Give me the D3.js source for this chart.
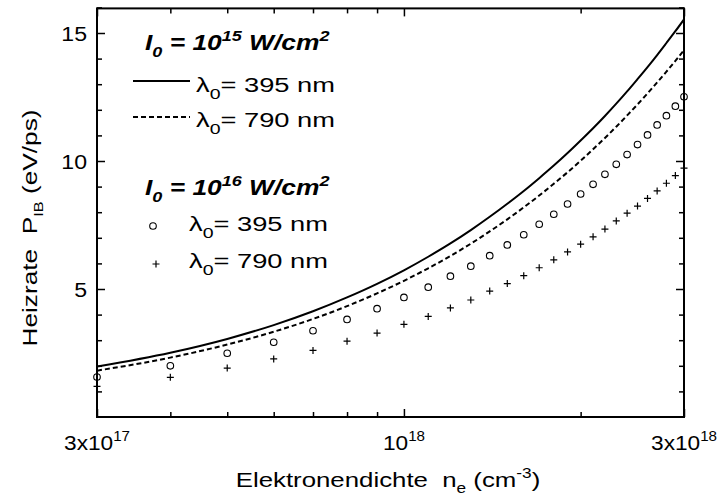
<!DOCTYPE html>
<html>
<head>
<meta charset="utf-8">
<script src="https://cdn.jsdelivr.net/npm/d3@7"></script>
<style>
  html, body { margin: 0; padding: 0; background: #fff; }
  svg { display: block; font-family: "Liberation Sans", Arial, Helvetica, sans-serif; }
  svg text { white-space: pre; }
</style>
</head>
<body>
<svg id="chart" width="719" height="502"></svg>
<script>
// ---- data ----
const density = [3e17, 4e17, 5e17, 6e17, 7e17, 8e17, 9e17,
  1.0e18, 1.1e18, 1.2e18, 1.3e18, 1.4e18, 1.5e18, 1.6e18, 1.7e18, 1.8e18, 1.9e18,
  2.0e18, 2.1e18, 2.2e18, 2.3e18, 2.4e18, 2.5e18, 2.6e18, 2.7e18, 2.8e18, 2.9e18, 3.0e18];
// I0 = 1e15 W/cm2, lambda 395 nm (solid)
const line395 = [1.97, 2.51, 3.05, 3.59, 4.13, 4.67, 5.20, 5.73, 6.26, 6.78, 7.30, 7.82, 8.33, 8.83,
  9.33, 9.82, 10.31, 10.80, 11.28, 11.76, 12.24, 12.72, 13.20, 13.67, 14.14, 14.61, 15.07, 15.53];
// I0 = 1e15 W/cm2, lambda 790 nm (dashed)
const line790 = [1.81, 2.32, 2.83, 3.33, 3.83, 4.33, 4.83, 5.32, 5.81, 6.29, 6.77, 7.25, 7.72, 8.19,
  8.65, 9.11, 9.56, 10.01, 10.46, 10.90, 11.34, 11.78, 12.21, 12.64, 13.07, 13.49, 13.91, 14.33];
// I0 = 1e16 W/cm2, lambda 395 nm (circles)
const circ395 = [1.56, 2.00, 2.49, 2.92, 3.37, 3.81, 4.23, 4.67, 5.07, 5.50, 5.89, 6.30, 6.72, 7.12,
  7.53, 7.92, 8.32, 8.71, 9.09, 9.48, 9.87, 10.25, 10.64, 11.02, 11.41, 11.77, 12.14, 12.51];
// I0 = 1e16 W/cm2, lambda 790 nm (plus)
const plus790 = [1.20, 1.55, 1.91, 2.27, 2.60, 2.96, 3.28, 3.62, 3.93, 4.26, 4.57, 4.92, 5.21, 5.52,
  5.83, 6.14, 6.45, 6.75, 7.04, 7.34, 7.66, 7.96, 8.24, 8.54, 8.83, 9.13, 9.43, 9.72];

const xMajorTicks = [3e17, 1e18, 3e18];
const xMinorTicks = [4e17, 5e17, 6e17, 7e17, 8e17, 9e17, 2e18];
const xTickLabels = [["3x10", "17"], ["10", "18"], ["3x10", "18"]];
const yMajorTicks = [5, 10, 15];
const yMinorTicks = [1, 2, 3, 4, 6, 7, 8, 9, 11, 12, 13, 14, 16];
const yTickLabels = ["5", "10", "15"];

// ---- layout ----
const svg = d3.select("#chart");
const L = 97, R = 684, T = 7.4, B = 417;
const x = d3.scaleLog().domain([3e17, 3e18]).range([L, R]);
const y = d3.scaleLinear().domain([0, 16]).range([B, T]);
const FONT = 21;

svg.append("defs").append("clipPath").attr("id", "clip")
  .append("rect").attr("x", L).attr("y", T).attr("width", R - L).attr("height", B - T);

// ticks (inward, mirrored) using d3 axes
function axisG(axis, tx, ty) {
  const g = svg.append("g").attr("transform", `translate(${tx},${ty})`).call(axis);
  g.select(".domain").remove();
  g.selectAll("text").remove();
  g.selectAll("line").attr("stroke", "#000").attr("stroke-width", 1.5);
  return g;
}
axisG(d3.axisBottom(x).tickValues(xMajorTicks).tickSize(-8).tickFormat(""), 0, B);
axisG(d3.axisBottom(x).tickValues(xMinorTicks).tickSize(-5).tickFormat(""), 0, B);
axisG(d3.axisTop(x).tickValues(xMajorTicks).tickSize(-8).tickFormat(""), 0, T + 1);
axisG(d3.axisTop(x).tickValues(xMinorTicks).tickSize(-5).tickFormat(""), 0, T + 1);
axisG(d3.axisLeft(y).tickValues(yMajorTicks).tickSize(-8).tickFormat(""), L, 0);
axisG(d3.axisLeft(y).tickValues(yMinorTicks).tickSize(-5).tickFormat(""), L, 0);
axisG(d3.axisRight(y).tickValues(yMajorTicks).tickSize(-8).tickFormat(""), R, 0);
axisG(d3.axisRight(y).tickValues(yMinorTicks).tickSize(-5).tickFormat(""), R, 0);

// frame
svg.append("rect").attr("x", L).attr("y", T + 1).attr("width", R - L).attr("height", B - T - 1)
  .attr("fill", "none").attr("stroke", "#000").attr("stroke-width", 2);

// y tick labels
svg.selectAll(".ylab").data(yMajorTicks).enter().append("text")
  .attr("transform", d => `translate(${L - 10},${y(d) + 7.5}) scale(1.1,1)`)
  .attr("text-anchor", "end").attr("font-size", FONT).text((d, i) => yTickLabels[i]);

// x tick labels with superscripts
xMajorTicks.forEach((v, i) => {
  const t = svg.append("text").attr("transform", `translate(${x(v)},450) scale(1.08,1)`)
    .attr("text-anchor", "middle").attr("font-size", FONT);
  t.append("tspan").text(xTickLabels[i][0]);
  t.append("tspan").attr("font-size", 14).attr("dy", -9).text(xTickLabels[i][1]);
});

// axis titles
const xt = svg.append("text").attr("transform", "translate(388,487) scale(1.23,1)")
  .attr("text-anchor", "middle").attr("font-size", FONT);
xt.append("tspan").text("Elektronendichte  n");
xt.append("tspan").attr("font-size", 14).attr("dy", 6).text("e");
xt.append("tspan").attr("dy", -6).text(" (cm");
xt.append("tspan").attr("font-size", 14).attr("dy", -9).text("-3");
xt.append("tspan").attr("dy", 9).text(")");

const yt = svg.append("text").attr("transform", "translate(37,228) rotate(-90) scale(1.25,1)")
  .attr("text-anchor", "middle").attr("font-size", FONT);
yt.append("tspan").text("Heizrate  P");
yt.append("tspan").attr("font-size", 13).attr("dy", 6).text("IB");
yt.append("tspan").attr("dy", -6).text(" (eV/ps)");

// data
const plot = svg.append("g").attr("clip-path", "url(#clip)");
const pts = (arr) => density.map((d, i) => [d, arr[i]]);
const lineGen = d3.line().x(d => x(d[0])).y(d => y(d[1])).curve(d3.curveMonotoneX);

plot.append("path").attr("d", lineGen(pts(line395)))
  .attr("fill", "none").attr("stroke", "#000").attr("stroke-width", 2);
plot.append("path").attr("d", lineGen(pts(line790)))
  .attr("fill", "none").attr("stroke", "#000").attr("stroke-width", 2)
  .attr("stroke-dasharray", "5,3");

svg.append("g").selectAll("circle").data(pts(circ395)).enter().append("circle")
  .attr("cx", d => x(d[0])).attr("cy", d => y(d[1])).attr("r", 3.3)
  .attr("fill", "none").attr("stroke", "#000").attr("stroke-width", 1.1);

svg.append("g").selectAll("path").data(pts(plus790)).enter().append("path")
  .attr("d", d => `M${x(d[0]) - 3.5},${y(d[1])}h7M${x(d[0])},${y(d[1]) - 3.5}v7`)
  .attr("stroke", "#000").attr("stroke-width", 1.2).attr("fill", "none");

// legend
function titleLine(yy, exp) {
  const t = svg.append("text").attr("transform", `translate(145,${yy}) scale(1.2,1)`)
    .attr("font-size", 22).attr("font-weight", "bold").attr("font-style", "italic");
  t.append("tspan").text("I");
  t.append("tspan").attr("font-size", 15).attr("dy", 7).text("0");
  t.append("tspan").attr("dy", -7).text(" = 10");
  t.append("tspan").attr("font-size", 15).attr("dy", -9).text(exp);
  t.append("tspan").attr("dy", 9).text(" W/cm");
  t.append("tspan").attr("font-size", 15).attr("dy", -9).text("2");
}
function lambdaLine(xx, yy, val) {
  const t = svg.append("text").attr("transform", `translate(${xx},${yy}) scale(1.3,1)`)
    .attr("font-size", FONT);
  t.append("tspan").text("\u03bb");
  t.append("tspan").attr("font-size", 15).attr("dy", 7).text("0");
  t.append("tspan").attr("dy", -7).text("= " + val + " nm");
}
titleLine(50, "15");
svg.append("line").attr("x1", 133).attr("x2", 190).attr("y1", 81).attr("y2", 81)
  .attr("stroke", "#000").attr("stroke-width", 2);
lambdaLine(196, 92, "395");
svg.append("line").attr("x1", 133).attr("x2", 190).attr("y1", 117).attr("y2", 117)
  .attr("stroke", "#000").attr("stroke-width", 2).attr("stroke-dasharray", "5,3");
lambdaLine(196, 127, "790");

titleLine(195, "16");
svg.append("circle").attr("cx", 153).attr("cy", 226).attr("r", 3.3)
  .attr("fill", "none").attr("stroke", "#000").attr("stroke-width", 1.1);
lambdaLine(189, 231, "395");
svg.append("path").attr("d", "M152.5,264h7M156,260.5v7")
  .attr("stroke", "#000").attr("stroke-width", 1.2);
lambdaLine(189, 268, "790");
</script>
</body>
</html>
